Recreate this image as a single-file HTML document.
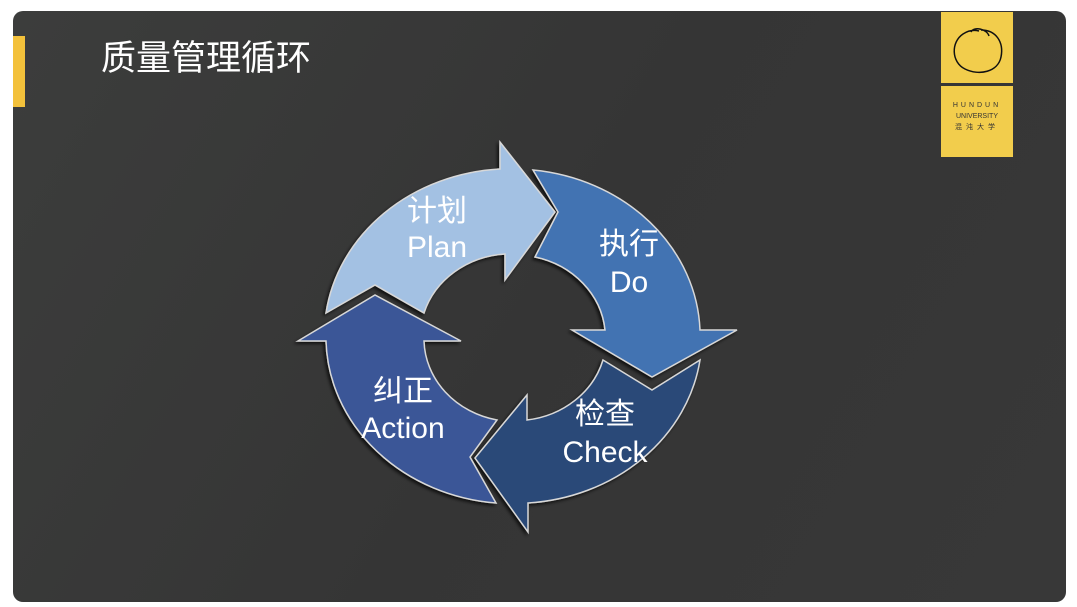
<!DOCTYPE html>
<html><head><meta charset="utf-8"><style>
body{margin:0;width:1077px;height:607px;background:#fff;overflow:hidden;position:relative;font-family:"Liberation Sans","Noto Sans CJK SC",sans-serif}
.bg{position:absolute;left:13px;top:11px;width:1053px;height:591px;border-radius:10px;background:linear-gradient(120deg,#3c3d3c 0%,#353535 50%,#383838 100%)}
.bar{position:absolute;left:13px;top:36px;width:12px;height:71px;background:#f3c13b}
.title{position:absolute;left:101px;top:38px;color:#fff;font-size:35px;line-height:42px;letter-spacing:0px}
.logo1{position:absolute;left:941px;top:12px;width:72px;height:71px;background:#f2cd4c}
.logo2{position:absolute;left:941px;top:86px;width:72px;height:71px;background:#f2cd4c;text-align:center;color:#333;font-size:7px;line-height:11px}
</style></head><body>
<div class="bg"></div>
<div class="bar"></div>
<div class="title">质量管理循环</div>
<div class="logo1"><svg width="72" height="71"><path d="M30 20 C33 14,46 17,48 24 M40 18 C55 18,63 30,60 45 C57 60,38 64,24 57 C10 50,10 30,22 22 C28 18,34 18,38 19" fill="none" stroke="#111" stroke-width="1.5"/></svg></div>
<div class="logo2"><div style="margin-top:14px;letter-spacing:3px">HUNDUN</div><div>UNIVERSITY</div><div style="letter-spacing:4px">混沌大学</div></div>
<svg width="1077" height="607" style="position:absolute;left:0;top:0">
<defs><filter id="s" x="-20%" y="-20%" width="140%" height="140%"><feDropShadow dx="-2" dy="2" stdDeviation="1.5" flood-color="#000" flood-opacity="0.7"/></filter></defs>
<g stroke="#d8d8d8" stroke-width="1.5" filter="url(#s)">
<path fill="#a3c1e3" d="M326,313 A187 167 0 0 1 500,169 L500,142 L555,212 L505,280 L505,254 A91 83 0 0 0 424,313 L375,285 Z"/>
<path fill="#4273b2" d="M533,170 A187 167 0 0 1 700,330 L737,330 L652,377 L572,330 L605,330 A91 83 0 0 0 535,257 L558,212 Z"/>
<path fill="#2a4a78" d="M527,395 L527,420 A91 83 0 0 0 603,360 L652,390 L700,360 A187 167 0 0 1 528,503 L528,532 L475,458 Z"/>
<path fill="#3a5797" d="M298,341 L375,295 L461,341 L424,341 A91 83 0 0 0 497,420 L470,457 L496,503 A187 167 0 0 1 326,341 Z"/>
</g>
<g fill="#fff" font-size="30" text-anchor="middle" font-family="Liberation Sans,Noto Sans CJK SC,sans-serif">
<text x="437" y="221">计划</text><text x="437" y="257">Plan</text>
<text x="629" y="254">执行</text><text x="629" y="292">Do</text>
<text x="403" y="401">纠正</text><text x="403" y="438">Action</text>
<text x="605" y="424">检查</text><text x="605" y="462">Check</text>
</g>
</svg>
</body></html>
